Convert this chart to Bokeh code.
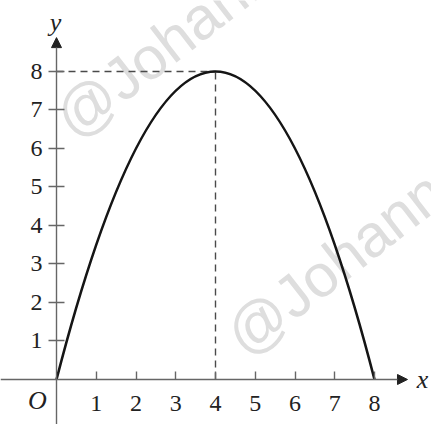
from bokeh.plotting import figure
from bokeh.models import Range1d, Arrow, NormalHead, ColumnDataSource, FixedTicker, Label
from bokeh.core.properties import value
from bokeh.embed import file_html
from bokeh.resources import INLINE

# data
x_ticks = [1, 2, 3, 4, 5, 6, 7, 8]
y_ticks = [1, 2, 3, 4, 5, 6, 7, 8]
curve_start = [0, 0]   # (x, y)
curve_end = [8, 0]
curve_ctrl = [4, 16]   # quadratic control point -> vertex at (4, 8)
peak_x = 4
peak_y = 8
watermark = ["@Johann", "@Johann"]

W, H = 431, 424
X0, X1 = -1.409, 9.434
Y0, Y1 = -1.169, 9.844
p = figure(width=W, height=H, output_backend="svg", toolbar_location=None,
           x_range=Range1d(X0, X1), y_range=Range1d(Y0, Y1),
           min_border=0, background_fill_color="white", border_fill_color="white",
           outline_line_color=None)
p.grid.visible = False

# watermark
wm = ColumnDataSource(dict(x=[0.15, 4.45], y=[6.61, 0.96], text=watermark))
p.text(x="x", y="y", text="text", source=wm, angle=0.66, text_align="left",
       text_baseline="middle", text_font=value("Liberation Sans"),
       text_font_size="60px", text_color="#dedede")

# dashed guides
p.line([0, peak_x], [peak_y, peak_y], line_color="#4a4a4a", line_width=1.4, line_dash="7 5")
p.line([peak_x, peak_x], [0, peak_y], line_color="#4a4a4a", line_width=1.4, line_dash="7 5")

# curve
p.quadratic(x0=[curve_start[0]], y0=[curve_start[1]], x1=[curve_end[0]], y1=[curve_end[1]],
            cx=[curve_ctrl[0]], cy=[curve_ctrl[1]], line_color="#151515", line_width=2.6)

axis_col = "#666666"
# axes arrows
p.add_layout(Arrow(x_start=X0, y_start=0, x_end=8.83, y_end=0, line_color=axis_col,
                   line_width=1.4, end=NormalHead(size=10, fill_color="#222222", line_color="#222222")))
p.add_layout(Arrow(x_start=0, y_start=Y0, x_end=0, y_end=8.88, line_color=axis_col,
                   line_width=1.4, end=NormalHead(size=10, fill_color="#222222", line_color="#222222")))

for ax in (p.xaxis[0], p.yaxis[0]):
    ax.fixed_location = 0
    ax.axis_line_color = None
    ax.minor_tick_line_color = None
    ax.major_tick_line_color = axis_col
    ax.major_tick_line_width = 1.4
    ax.major_label_text_font = "Liberation Serif"
    ax.major_label_text_font_size = "24px"
    ax.major_label_text_color = "#222222"

p.xaxis.ticker = FixedTicker(ticks=x_ticks)
p.yaxis.ticker = FixedTicker(ticks=y_ticks)
p.xaxis.major_tick_in = 8
p.xaxis.major_tick_out = 0
p.xaxis.major_label_standoff = 17
p.yaxis.major_tick_in = 8
p.yaxis.major_tick_out = 8
p.yaxis.major_label_standoff = 6

for txt, x, y, dx, dy in [("O", 0, 0, -19, -21), ("x", X1, 0, -9, 0), ("y", 0, Y1, -1, -22)]:
    p.add_layout(Label(x=x, y=y, x_offset=dx, y_offset=dy, text=txt, text_font="Liberation Serif",
                       text_font_style="italic", text_font_size="26px", text_color="#222222",
                       text_align="center", text_baseline="middle"))

open("out.html", "w").write(file_html(p, INLINE))
